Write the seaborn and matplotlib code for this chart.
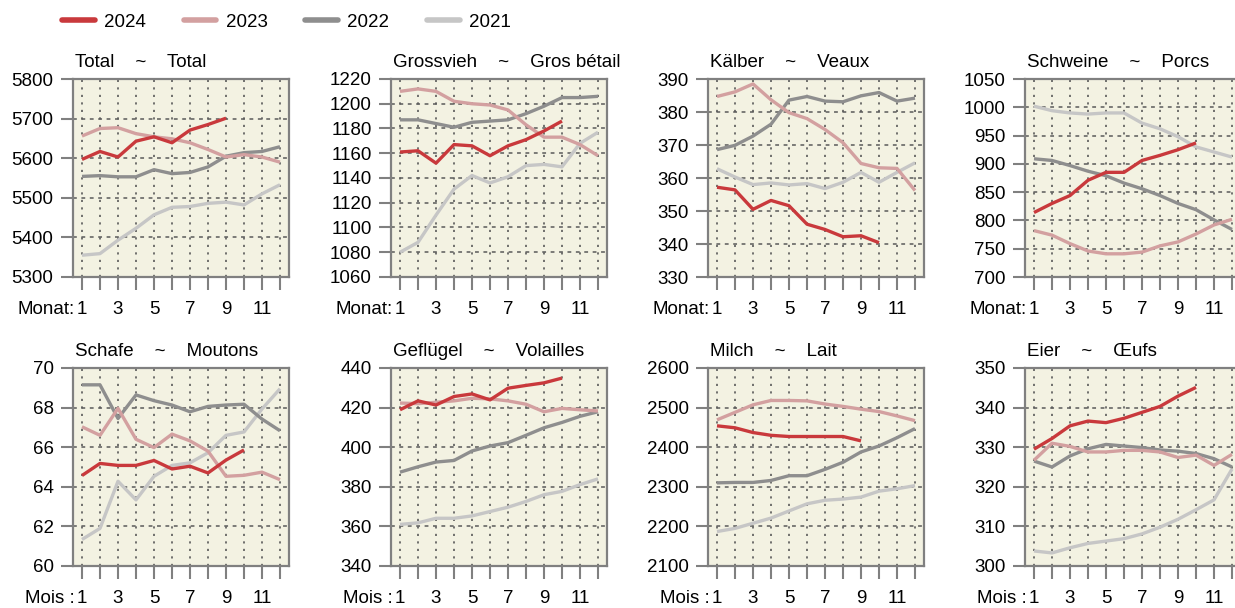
import numpy as np
import pandas as pd
import matplotlib
matplotlib.use("Agg")
import matplotlib.pyplot as plt
from matplotlib.lines import Line2D
from matplotlib.transforms import offset_copy
import seaborn as sns

sns.set_theme(style="white")
plt.rcParams["font.family"] = ["Liberation Sans", "DejaVu Sans"]
plt.rcParams["text.color"] = "black"
plt.rcParams["axes.titlecolor"] = "black"
plt.rcParams["xtick.labelcolor"] = "black"
plt.rcParams["ytick.labelcolor"] = "black"

months = list(range(1, 13))
years = [2024, 2023, 2022, 2021]
year_colors = {2024: "#C9393C", 2023: "#D3A0A0", 2022: "#8E8E8E", 2021: "#C6C6C6"}

# Monthly values per category (2024 runs only to the latest available month)
total_2024 = [5597, 5617, 5603, 5643, 5654, 5639, 5671, 5685, 5701]
total_2023 = [5656, 5675, 5677, 5662, 5654, 5649, 5639, 5622, 5603, 5609, 5603, 5590]
total_2022 = [5554, 5556, 5553, 5553, 5571, 5561, 5564, 5578, 5605, 5614, 5617, 5629]
total_2021 = [5355, 5359, 5393, 5423, 5457, 5476, 5478, 5486, 5489, 5482, 5510, 5533]

gross_2024 = [1161, 1162, 1152, 1167, 1166, 1158, 1166, 1171, 1178, 1186]
gross_2023 = [1210, 1212, 1210, 1202, 1200, 1199, 1195, 1183, 1173, 1173, 1167, 1158]
gross_2022 = [1187, 1187, 1184, 1181, 1185, 1186, 1187, 1192, 1198, 1205, 1205, 1206]
gross_2021 = [1080, 1088, 1110, 1131, 1142, 1136, 1141, 1150, 1151, 1149, 1168, 1177]

kalb_2024 = [357.2, 356.4, 350.5, 353.2, 351.6, 346.0, 344.4, 342.2, 342.5, 340.4]
kalb_2023 = [384.7, 386.1, 388.5, 383.7, 379.8, 378.0, 374.7, 370.7, 364.4, 363.1, 362.9, 356.2]
kalb_2022 = [368.6, 369.9, 372.7, 376.3, 383.6, 384.7, 383.3, 383.1, 384.9, 385.9, 383.3, 384.2]
kalb_2021 = [362.8, 360.3, 358.0, 358.5, 357.9, 358.3, 356.8, 358.7, 361.7, 358.7, 361.7, 364.6]

schw_2024 = [814, 830, 844, 871, 885, 885, 906, 915, 925, 937]
schw_2023 = [782, 774, 759, 746, 741, 741, 744, 755, 762, 776, 792, 802]
schw_2022 = [909, 906, 897, 887, 879, 866, 856, 844, 830, 819, 801, 784]
schw_2021 = [1002, 994, 990, 988, 990, 990, 972, 962, 948, 930, 921, 912]

schaf_2024 = [64.57, 65.18, 65.08, 65.08, 65.33, 64.90, 65.04, 64.70, 65.35, 65.86]
schaf_2023 = [67.03, 66.60, 67.96, 66.40, 65.98, 66.66, 66.32, 65.80, 64.53, 64.58, 64.74, 64.36]
schaf_2022 = [69.15, 69.15, 67.45, 68.64, 68.35, 68.13, 67.79, 68.06, 68.13, 68.17, 67.42, 66.83]
schaf_2021 = [61.34, 61.90, 64.28, 63.34, 64.53, 65.08, 65.21, 65.72, 66.60, 66.77, 67.93, 68.95]

gefl_2024 = [418.9, 423.4, 421.3, 425.6, 426.9, 423.9, 429.8, 431.2, 432.5, 434.9]
gefl_2023 = [422.3, 422.0, 422.7, 423.4, 424.7, 424.4, 423.4, 421.7, 417.9, 419.6, 418.9, 418.3]
gefl_2022 = [387.4, 390.1, 392.5, 393.3, 398.1, 400.6, 402.3, 406.0, 409.8, 412.5, 415.6, 417.9]
gefl_2021 = [361.0, 361.8, 364.1, 364.1, 365.3, 367.5, 369.7, 372.6, 376.0, 377.7, 381.1, 384.0]

milch_2024 = [2454, 2449, 2437, 2430, 2427, 2427, 2427, 2427, 2416]
milch_2023 = [2469, 2488, 2507, 2518, 2518, 2517, 2509, 2503, 2496, 2490, 2479, 2467]
milch_2022 = [2310, 2311, 2311, 2316, 2328, 2328, 2344, 2362, 2388, 2403, 2424, 2447]
milch_2021 = [2187, 2195, 2208, 2221, 2239, 2257, 2266, 2269, 2274, 2289, 2295, 2303]

eier_2024 = [329.5, 332.2, 335.4, 336.6, 336.2, 337.3, 338.8, 340.3, 342.9, 345.1]
eier_2023 = [326.7, 331.0, 330.2, 328.8, 328.8, 329.2, 329.2, 328.8, 327.4, 328.0, 325.4, 328.2]
eier_2022 = [326.5, 325.0, 327.8, 329.6, 330.7, 330.3, 329.9, 329.3, 329.0, 328.4, 327.1, 325.0]
eier_2021 = [303.8, 303.3, 304.6, 305.7, 306.3, 306.9, 308.1, 309.8, 311.8, 314.2, 316.7, 324.5]

titles = [
    "Total    ~    Total", "Grossvieh    ~    Gros bétail", "Kälber    ~    Veaux",
    "Schweine    ~    Porcs", "Schafe    ~    Moutons", "Geflügel    ~    Volailles",
    "Milch    ~    Lait", "Eier    ~    Œufs",
]
series = [
    (total_2024, total_2023, total_2022, total_2021),
    (gross_2024, gross_2023, gross_2022, gross_2021),
    (kalb_2024, kalb_2023, kalb_2022, kalb_2021),
    (schw_2024, schw_2023, schw_2022, schw_2021),
    (schaf_2024, schaf_2023, schaf_2022, schaf_2021),
    (gefl_2024, gefl_2023, gefl_2022, gefl_2021),
    (milch_2024, milch_2023, milch_2022, milch_2021),
    (eier_2024, eier_2023, eier_2022, eier_2021),
]
y_ticks = [
    np.arange(5300, 5801, 100), np.arange(1060, 1221, 20), np.arange(330, 391, 10), np.arange(700, 1051, 50),
    np.arange(60, 71, 2), np.arange(340, 441, 20), np.arange(2100, 2601, 100), np.arange(300, 351, 10),
]
month_prefix = ["Monat:"] * 4 + ["Mois :"] * 4

W, H = 1235, 608
fig = plt.figure(figsize=(W / 100, H / 100), dpi=100)

col_left = [73, 391, 708, 1025]
row_top = [79, 368]
ax_w, ax_h = 216, 198

bg = "#F3F2E2"
spine_c = "#808080"
grid_c = "#5A5A5A"
fs = 13.5

for i in range(8):
    r, c = divmod(i, 4)
    left = col_left[c] / W
    bottom = 1 - (row_top[r] + ax_h) / H
    ax = fig.add_axes([left, bottom, ax_w / W, ax_h / H])
    ax.set_facecolor(bg)

    frames = []
    for yr, vals in zip(years, series[i]):
        frames.append(pd.DataFrame({"month": months[:len(vals)], "value": vals, "year": yr}))
    df = pd.concat(frames, ignore_index=True)
    # draw oldest first so the current year sits on top
    for yr in years[::-1]:
        sns.lineplot(data=df[df["year"] == yr], x="month", y="value", color=year_colors[yr],
                     linewidth=2.4, ax=ax, legend=False, solid_capstyle="butt")

    ax.set_xlim(0.5, 12.5)
    ticks = y_ticks[i]
    ax.set_ylim(ticks[0], ticks[-1])
    ax.set_yticks(ticks)
    ax.set_yticklabels([str(t) for t in ticks], fontsize=fs)
    ax.set_xticks(months)
    ax.set_xticklabels([str(m) if m % 2 == 1 else "" for m in months], fontsize=fs)
    ax.set_xlabel("")
    ax.set_ylabel("")

    ax.xaxis.grid(True, linestyle=(0, (1.3, 3.2)), color=grid_c, linewidth=1.2)
    ax.yaxis.grid(True, linestyle=(0, (2.5, 3)), color=grid_c, linewidth=1.1)
    ax.set_axisbelow(True)

    for s in ax.spines.values():
        s.set_visible(True)
        s.set_color(spine_c)
        s.set_linewidth(1.6)
    ax.tick_params(axis="both", which="major", direction="out", length=9, width=1.5,
                   color=spine_c, bottom=True, left=True, top=False, right=False)
    ax.tick_params(axis="x", pad=8)
    ax.tick_params(axis="y", pad=5)

    ax.set_title(titles[i], loc="left", fontsize=fs, pad=9, x=0.01)

    # month prefix placed just left of the first tick label
    prefix_tr = offset_copy(ax.get_xaxis_transform(), fig=fig, x=-7, y=-24, units="dots")
    ax.text(1, 0, month_prefix[i], transform=prefix_tr, fontsize=fs, ha="right", va="top")

handles = [Line2D([0], [0], color=year_colors[y], linewidth=4) for y in years]
fig.legend(handles, [str(y) for y in years], loc="center left",
           bbox_to_anchor=(62 / W, 1 - 22 / H), ncol=4, frameon=False, fontsize=fs,
           handlelength=1.75, handletextpad=0.5, columnspacing=2.0, borderpad=0, borderaxespad=0)

fig.savefig("out.png", dpi=100, facecolor="white")
